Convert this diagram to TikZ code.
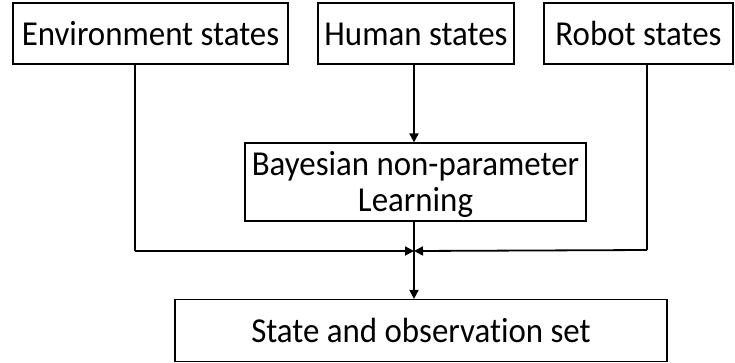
\documentclass[tikz,border=0pt]{standalone}
\usepackage{fontspec}
\setmainfont{Carlito}[Ligatures=NoCommon,FakeStretch=0.94]
\usetikzlibrary{arrows.meta,calc}
\begin{document}
\begin{tikzpicture}[x=1pt,y=-1pt,
  box/.style={draw=black,line width=1.2pt,inner sep=0pt,align=center,
    text height=26pt,text depth=2pt,
    font=\fontsize{35}{36}\selectfont},
  conn/.style={line width=1.8pt,-{Triangle[length=9pt,width=9pt]}},
  plain/.style={line width=1.8pt}]
\useasboundingbox (0,0) rectangle (735,362);
\node[box,minimum width=275pt,minimum height=61pt] (env) at (150.5,33.5) {Environment states};
\node[box,minimum width=196pt,minimum height=61pt] (human) at (416,33.5) {Human states};
\node[box,minimum width=189pt,minimum height=61pt] (robot) at (638.5,33.5) {Robot states};
\node[box,minimum width=341pt,minimum height=78pt,text height=62pt,text depth=4pt] (bayes) at (415.5,182) {Bayesian non-parameter\\Learning};
\node[box,minimum width=492pt,minimum height=62pt] (final) at (421,330.5) {State and observation set};
\coordinate (j) at (414,251);
\coordinate (eL) at (135,251);
\coordinate (rR) at (647,250);
\draw[plain] (env.south -| eL) -- (eL);
\draw[conn] (eL) -- (j);
\draw[plain] (robot.south -| rR) -- (rR);
\draw[conn] (rR) -- (j);
\draw[conn] (human.south -| j) -- (bayes.north -| j);
\draw[conn] (bayes.south -| j) -- (final.north -| j);
\end{tikzpicture}
\end{document}
